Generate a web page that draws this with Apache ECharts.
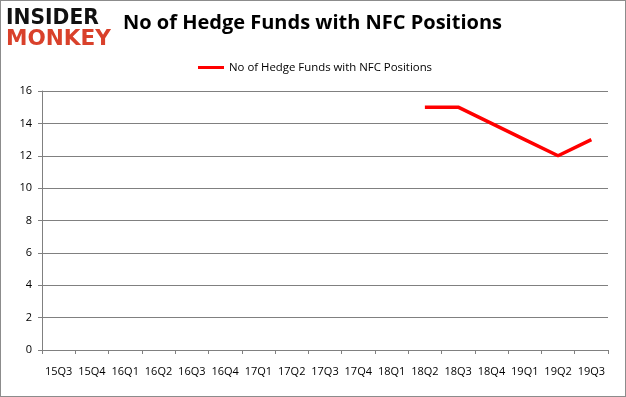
<!DOCTYPE html>
<html><head><meta charset="utf-8">
<script src="https://cdn.jsdelivr.net/npm/echarts@6/dist/echarts.min.js"></script>
<style>html,body{margin:0;padding:0;background:#fff}#c{width:626px;height:397px;box-sizing:border-box;border:1px solid #8c8c8c}</style>
</head><body><div id="c"></div>
<script>
const categories = ['15Q3','15Q4','16Q1','16Q2','16Q3','16Q4','17Q1','17Q2','17Q3','17Q4','18Q1','18Q2','18Q3','18Q4','19Q1','19Q2','19Q3'];
const funds = [null,null,null,null,null,null,null,null,null,null,null,15,15,14,13,12,13];
const seriesName = 'No of Hedge Funds with NFC Positions';
const titleText = 'No of Hedge Funds with NFC Positions';
const chart = echarts.init(document.getElementById('c'), null, {renderer:'canvas'});
chart.setOption({
  animation:false,
  graphic:[
    {type:'text',x:122,y:12,style:{text:titleText,fontFamily:'Open Sans',fontWeight:'bold',fontSize:20,fill:'#000'}},
    {type:'text',x:5,y:6,scaleX:0.92,style:{text:'INSIDER',fontFamily:'DejaVu Sans',fontWeight:'bold',fontSize:22,fill:'#111'}},
    {type:'text',x:5,y:27,scaleX:0.98,style:{text:'MONKEY',fontFamily:'DejaVu Sans',fontWeight:'bold',fontSize:22,fill:'#d9412b'}}
  ],
  legend:{top:56,left:192,itemWidth:26,itemHeight:3,itemGap:3,icon:'rect',textStyle:{fontFamily:'Open Sans',fontSize:11.4,color:'#000'},data:[seriesName]},
  grid:{left:41,right:17,top:90,bottom:46},
  xAxis:{type:'category',data:categories,boundaryGap:true,
    axisLine:{lineStyle:{color:'#808080'}},axisTick:{show:true,length:4,lineStyle:{color:'#808080'}},
    axisLabel:{interval:0,margin:16,fontFamily:'Open Sans',fontSize:11,color:'#000'}},
  yAxis:{type:'value',min:0,max:16,interval:2,
    axisLine:{show:true,lineStyle:{color:'#808080'}},axisTick:{show:true,length:4,lineStyle:{color:'#808080'}},
    splitLine:{lineStyle:{color:'#808080'}},
    axisLabel:{margin:10,fontFamily:'Open Sans',fontSize:11,color:'#000'}},
  series:[{name:seriesName,type:'line',data:funds,showSymbol:false,symbol:'none',connectNulls:false,
    lineStyle:{color:'#ff0000',width:3.5},itemStyle:{color:'#ff0000'}}]
});
</script></body></html>
